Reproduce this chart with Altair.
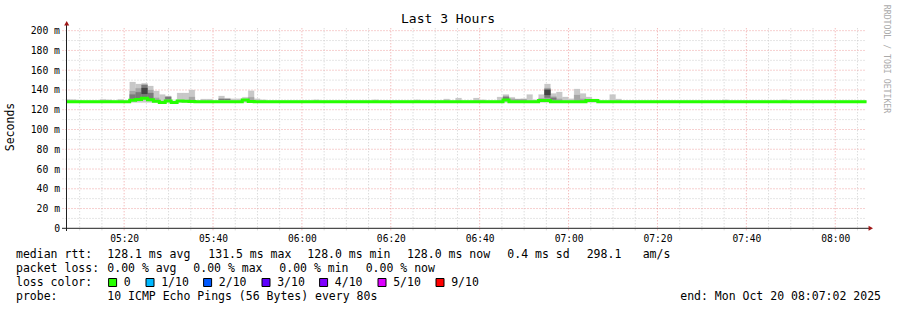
import altair as alt
import pandas as pd

# ------------------------------------------------------------------ data
TITLE = "Last 3 Hours"
Y_TITLE = "Seconds"
WATERMARK = "RRDTOOL / TOBI OETIKER"

# time in minutes after midnight, Mon Oct 20 2025
T_START = 307 + 2 / 60      # 05:07:02
T_END = 487 + 2 / 60        # 08:07:02
STEP = 80 / 60              # probe step 80 s
FIRST_COL = 306 + 35 / 60   # start of first rrd column

x_major = [320, 340, 360, 380, 400, 420, 440, 460, 480]
x_minor = [310, 315, 325, 330, 335, 345, 350, 355, 365, 370, 375, 385, 390, 395,
           405, 410, 415, 425, 430, 435, 445, 450, 455, 465, 470, 475, 485]
y_labels = [0, 20, 40, 60, 80, 100, 120, 140, 160, 180, 200]
y_major = [20, 40, 60, 80, 100, 120, 140, 160, 180, 200]
y_minor = [10, 30, 50, 70, 90, 110, 130, 150, 170, 190]

# median rtt (ms) per 80 s column
median = [
    128.1, 128.1, 128.1, 128.1, 128.1, 128.1, 128.1, 128.1, 128.1, 128.1,
    128.1, 129.7, 130.3, 131.5, 130.0, 128.6, 127.4, 128.8, 127.3, 128.8,
    128.6, 128.2, 128.1, 128.1, 128.1, 128.1, 128.1, 128.1, 128.1, 128.1,
    129.9, 128.3, 128.1, 128.1, 128.1, 128.1, 128.1, 128.1, 128.1, 128.1,
    128.1, 128.1, 128.1, 128.1, 128.1, 128.1, 128.1, 128.1, 128.1, 128.1,
    128.1, 128.1, 128.1, 128.1, 128.1, 128.1, 128.1, 128.1, 128.1, 128.1,
    128.1, 128.1, 128.1, 128.1, 128.1, 128.1, 128.1, 128.1, 128.1, 128.1,
    128.1, 128.1, 128.1, 128.1, 129.8, 128.1, 128.1, 128.1, 128.1, 128.1,
    129.4, 129.4, 128.1, 128.1, 128.1, 128.1, 128.1, 128.1, 129.4, 129.4,
    128.1, 128.1, 128.1, 128.1, 128.1, 128.1, 128.1, 128.1, 128.1, 128.1,
    128.1, 128.1, 128.1, 128.1, 128.1, 128.1, 128.1, 128.1, 128.1, 128.1,
    128.1, 128.1, 128.1, 128.1, 128.1, 128.1, 128.1, 128.1, 128.1, 128.1,
    128.1, 128.1, 128.1, 128.1, 128.1, 128.1, 128.1, 128.1, 128.1, 128.1,
    128.1, 128.1, 128.1, 128.1, 128.1, 128.1,
]

# smoke: slowest ping per column (ms), lowest ping
SMOKE_FLOOR = 127.2
smoke_hi = [
    130.5, 130.3, 129.6, 129.2, 129.2, 129.2, 130.5, 130.2, 129.2, 130.5,
    129.2, 148.0, 146.0, 146.7, 144.0, 139.0, 135.3, 134.0, 129.0, 137.0,
    137.0, 140.0, 129.4, 130.8, 130.8, 129.4, 134.0, 131.8, 131.0, 131.2,
    132.5, 139.3, 131.2, 130.2, 129.2, 129.2, 129.2, 129.2, 129.2, 129.2,
    129.2, 129.2, 130.2, 129.2, 129.2, 129.2, 129.2, 129.2, 129.2, 129.2,
    129.2, 129.2, 130.2, 129.2, 129.2, 129.2, 129.2, 129.2, 129.2, 130.2,
    129.2, 129.2, 129.2, 129.2, 130.9, 129.2, 131.8, 129.2, 129.2, 131.8,
    130.2, 129.2, 129.2, 132.9, 135.3, 132.6, 130.9, 131.2, 135.3, 130.2,
    135.3, 146.0, 136.3, 138.0, 133.0, 131.2, 141.0, 136.3, 133.0, 130.9,
    129.2, 129.2, 135.3, 130.9, 129.2, 129.2, 129.2, 129.2, 129.2, 129.2,
    129.2, 129.2, 129.2, 129.2, 129.2, 129.2, 129.2, 129.2, 129.2, 129.2,
    129.2, 130.2, 129.2, 129.2, 129.2, 129.2, 129.2, 129.2, 129.2, 129.2,
    129.2, 130.2, 129.2, 129.2, 129.2, 129.2, 129.2, 129.2, 129.2, 129.2,
    129.2, 129.2, 129.2, 129.2, 129.2, 129.2,
]

# denser smoke bands (column index, low, high)
mid_col = [11, 12, 13, 14, 15, 17, 21, 31, 74, 75, 76, 77, 80, 81, 82, 83, 86, 87]
mid_lo = [130.5, 130.5, 130.5, 130.5, 128.5, 129.5, 128.5, 128.5, 129.5, 129.0,
          128.8, 128.8, 129.0, 130.5, 129.0, 128.8, 129.0, 128.8]
mid_hi = [139.0, 141.7, 145.5, 140.0, 132.0, 133.5, 133.0, 132.5, 134.0, 131.0,
          130.8, 130.8, 131.5, 142.0, 133.5, 131.0, 135.0, 131.0]
dark_col = [11, 12, 13, 14, 17, 26, 27, 74, 81, 82]
dark_lo = [131.0, 131.5, 133.0, 131.0, 130.5, 129.8, 129.8, 130.0, 132.0, 130.0]
dark_hi = [135.5, 137.6, 145.0, 137.0, 132.8, 131.0, 130.8, 133.0, 141.0, 132.0]
core_col = [13, 81]
core_lo = [136.0, 135.0]
core_hi = [142.0, 140.0]

rtt_stats = ["128.1 ms avg", "131.5 ms max", "128.0 ms min", "128.0 ms now",
             "0.4 ms sd", "298.1", "am/s"]
loss_stats = ["0.00 % avg", "0.00 % max", "0.00 % min", "0.00 % now"]
loss_labels = ["0", "1/10", "2/10", "3/10", "4/10", "5/10", "9/10"]
loss_colors = ["#26ff00", "#00b8ff", "#0059ff", "#5e00ff", "#7e00ff", "#dd00ff", "#ff0000"]
PROBE = "10 ICMP Echo Pings (56 Bytes) every 80s"
END_LABEL = "end: Mon Oct 20 08:07:02 2025"

# ------------------------------------------------------------------ layout
PAD_L, PAD_T = 66.5, 28.3
W, H = 800, 200
FULL_W, FULL_H = 897, 310
MONO = "DejaVu Sans Mono"
LEG_SIZE = 11.5
rtt_x = [107.3, 208.3, 307.3, 407.0, 507.3, 586.7, 642.7]
loss_x = [107.3, 193.3, 279.3, 365.7]
sq_x = [108.3, 145.7, 203.3, 261.7, 319.3, 377.7, 435.7]
line_y = [258.3, 272.3, 286.3, 300.3]


def rx(x):
    return x - PAD_L


def ry(y):
    return y - PAD_T


XS = alt.Scale(domain=[T_START, T_END], nice=False, zero=False)
YS = alt.Scale(domain=[0, 202.4], nice=False, zero=False)
X_AX = alt.Axis(values=x_major, domain=False, ticks=False, grid=False, title=None,
                labelFont=MONO, labelFontSize=9.6, labelColor="black", labelPadding=5,
                labelExpr="(floor(datum.value/60) < 10 ? '0' : '') + floor(datum.value/60) + ':' + "
                          "(datum.value % 60 < 10 ? '0' : '') + (datum.value % 60)")
Y_AX = alt.Axis(values=y_labels, domain=False, ticks=False, grid=False, title=None,
                labelFont=MONO, labelFontSize=9.75, labelColor="black", labelPadding=7,
                labelExpr="datum.value == 0 ? '0\u00a0\u00a0' : datum.value + ' m'")

col_t0 = [FIRST_COL + STEP * i for i in range(len(median))]
col_t1 = [t + STEP for t in col_t0]

layers = []

# grid (extends a few pixels past the axes, as rrdtool does)
GRID_MINOR = "#cccccc"
GRID_MAJOR = "#eea0a0"
for vals, col in [(x_minor, GRID_MINOR), (x_major, GRID_MAJOR)]:
    layers.append(alt.Chart(pd.DataFrame({"t": vals})).mark_rule(
        color=col, strokeDash=[1, 2], strokeWidth=1).encode(
        x=alt.X("t:Q", scale=XS, axis=X_AX), y=alt.value(0), y2=alt.value(H + 3)))
for vals, col in [(y_minor, GRID_MINOR), (y_major, GRID_MAJOR)]:
    layers.append(alt.Chart(pd.DataFrame({"v": vals})).mark_rule(
        color=col, strokeDash=[1, 2], strokeWidth=1).encode(
        y=alt.Y("v:Q", scale=YS, axis=Y_AX), x=alt.value(-4), x2=alt.value(W)))

# smoke
smoke_df = pd.DataFrame({"t0": col_t0, "t1": col_t1,
                         "lo": [SMOKE_FLOOR] * len(smoke_hi), "hi": smoke_hi})


def band(df, color):
    return alt.Chart(df).mark_rect(color=color, clip=True, stroke=color, strokeWidth=0.2).encode(
        x=alt.X("t0:Q", scale=XS, axis=X_AX), x2="t1:Q",
        y=alt.Y("lo:Q", scale=YS, axis=Y_AX), y2="hi:Q")


def band_df(cols, lo, hi):
    return pd.DataFrame({"t0": [col_t0[c] for c in cols], "t1": [col_t1[c] for c in cols],
                         "lo": lo, "hi": hi})


layers.append(band(smoke_df, "#c8c8c8"))
layers.append(band(band_df(mid_col, mid_lo, mid_hi), "#a6a6a6"))
layers.append(band(band_df(dark_col, dark_lo, dark_hi), "#7a7a7a"))
layers.append(band(band_df(core_col, core_lo, core_hi), "#454545"))

# median line
med_df = pd.DataFrame({"t": col_t0 + [col_t1[-1]], "m": median + [median[-1]]})
layers.append(alt.Chart(med_df).mark_line(
    interpolate="step-after", color="#26ff00", strokeWidth=3, clip=True, strokeCap="butt").encode(
    x=alt.X("t:Q", scale=XS, axis=X_AX), y=alt.Y("m:Q", scale=YS, axis=Y_AX)))

# axis lines and arrows
AXIS_C = "#202020"
ARROW_C = "#a01818"
dummy = pd.DataFrame({"a": [0]})
layers.append(alt.Chart(dummy).mark_rule(color=AXIS_C).encode(
    y=alt.value(H), x=alt.value(rx(62)), x2=alt.value(rx(869))))
layers.append(alt.Chart(dummy).mark_rule(color=AXIS_C).encode(
    x=alt.value(0), y=alt.value(ry(24)), y2=alt.value(ry(231))))
layers.append(alt.Chart(dummy).mark_point(shape="triangle-right", filled=True, size=26,
                                          color=ARROW_C, opacity=1).encode(
    x=alt.value(rx(870.8)), y=alt.value(H)))
layers.append(alt.Chart(dummy).mark_point(shape="triangle-up", filled=True, size=26,
                                          color=ARROW_C, opacity=1).encode(
    x=alt.value(0.2), y=alt.value(ry(23.3))))


def txt(s, x, y, size=LEG_SIZE, align="left", angle=0, color="black", baseline="alphabetic"):
    return alt.Chart(pd.DataFrame({"s": [s]})).mark_text(
        font=MONO, fontSize=size, align=align, baseline=baseline, angle=angle, color=color).encode(
        text="s:N", x=alt.value(rx(x)), y=alt.value(ry(y)))


layers.append(txt(TITLE, 448, 23, size=13, align="center"))
layers.append(txt(Y_TITLE, 11, 127, align="center", angle=270, baseline="middle"))
layers.append(txt(WATERMARK, 886, 59, size=8.2, align="center", angle=90, color="#aaaaaa",
                  baseline="middle"))

layers.append(txt("median rtt:", 16, line_y[0]))
for s, x in zip(rtt_stats, rtt_x):
    layers.append(txt(s, x, line_y[0]))
layers.append(txt("packet loss:", 16, line_y[1]))
for s, x in zip(loss_stats, loss_x):
    layers.append(txt(s, x, line_y[1]))
layers.append(txt("loss color:", 16, line_y[2]))
for lab, c, x in zip(loss_labels, loss_colors, sq_x):
    layers.append(alt.Chart(dummy).mark_square(size=64, filled=True, fill=c, stroke="black",
                                               strokeWidth=1, opacity=1).encode(
        x=alt.value(rx(x + 4.3)), y=alt.value(ry(282.5))))
    layers.append(txt(lab, x + 15.5, line_y[2]))
layers.append(txt("probe:", 16, line_y[3]))
layers.append(txt(PROBE, 107.3, line_y[3]))
layers.append(txt(END_LABEL, 881, line_y[3], align="right"))

chart = alt.layer(*layers).properties(
    width=W, height=H,
    padding={"left": PAD_L, "top": PAD_T, "right": FULL_W - PAD_L - W, "bottom": FULL_H - PAD_T - H},
    autosize=alt.AutoSizeParams(type="none"),
    background="white",
).configure_view(stroke=None)

chart.save("out.html", embed_options={"renderer": "svg", "actions": False})
